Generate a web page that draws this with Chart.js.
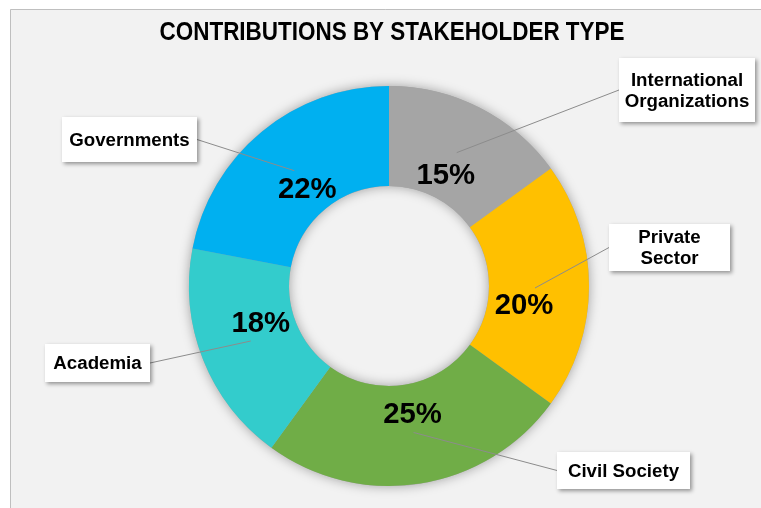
<!DOCTYPE html>
<html>
<head>
<meta charset="utf-8">
<script src="https://cdn.jsdelivr.net/npm/chart.js@4.4.1/dist/chart.umd.min.js"></script>
<style>
  html, body { margin: 0; padding: 0; background: #fff; }
  #wrap { width: 761px; height: 508px; position: relative; }
</style>
</head>
<body>
<div id="wrap"><canvas id="stakeChart"></canvas></div>
<script>
const titleText = 'CONTRIBUTIONS BY STAKEHOLDER TYPE';
const stakeholders = ['International Organizations', 'Private Sector', 'Civil Society', 'Academia', 'Governments'];
const shares = [15, 20, 25, 18, 22];
const sliceColors = ['#A5A5A5', '#FFC000', '#70AD47', '#33CCCC', '#00B0F0'];
// how each name is broken inside its callout box
const calloutLines = [['International', 'Organizations'], ['Private', 'Sector'], ['Civil Society'], ['Academia'], ['Governments']];

// callout layout, relative to the doughnut centre: [left, top, width, height]
const calloutBoxes = [[230, -228, 136, 64], [220, -62, 121, 47], [168, 166, 133, 37], [-344, 58, 105, 38], [-327, -169, 135, 45]];
// small nudges of the % labels (Excel moved a couple of them by hand)
const pctNudge = [[0, 0], [10, 19], [4, 4], [-12, -9], [-2, -1]];
// where the leader line leaves the % label
const leaderStart = [[11, -22], [11, -17], [1, 19], [-10, 18], [-13, -18]];

const calloutPlugin = {
  id: 'callouts',
  beforeDraw(chart) {
    const ctx = chart.ctx;
    ctx.save();
    ctx.fillStyle = '#fff';
    ctx.fillRect(0, 0, chart.width, chart.height);
    ctx.fillStyle = '#F2F2F2';
    ctx.fillRect(10, 9, chart.width, chart.height);
    ctx.strokeStyle = '#BFBFBF';
    ctx.lineWidth = 1;
    ctx.beginPath();
    ctx.moveTo(10.5, chart.height);
    ctx.lineTo(10.5, 9.5);
    ctx.lineTo(chart.width, 9.5);
    ctx.stroke();

    // title: narrow bold face, squeezed to the width it has in the original
    ctx.fillStyle = '#000';
    ctx.font = 'bold 25px "Liberation Sans Narrow", "Arial Narrow", "Liberation Sans", Arial, sans-serif';
    ctx.textAlign = 'center';
    ctx.textBaseline = 'middle';
    const w = ctx.measureText(titleText).width;
    const sx = Math.min(1, 465 / w);
    ctx.translate(392, 33);
    ctx.scale(sx, 1);
    ctx.fillText(titleText, 0, 0);
    ctx.restore();
  },
  beforeDatasetsDraw(chart) {
    // soft shadow under the ring
    const ctx = chart.ctx;
    const a = chart.getDatasetMeta(0).data[0];
    if (!a) return;
    ctx.save();
    ctx.shadowColor = 'rgba(0,0,0,0.35)';
    ctx.shadowBlur = 12;
    ctx.fillStyle = '#A5A5A5';
    ctx.beginPath();
    ctx.arc(a.x, a.y, a.outerRadius, 0, Math.PI * 2);
    ctx.arc(a.x, a.y, a.innerRadius, 0, Math.PI * 2, true);
    ctx.fill();
    ctx.restore();
  },
  afterDatasetsDraw(chart) {
    const ctx = chart.ctx;
    const arcs = chart.getDatasetMeta(0).data;
    ctx.save();
    arcs.forEach((a, i) => {
      const mid = (a.startAngle + a.endAngle) / 2;
      const rr = a.outerRadius * 0.625;
      const px = a.x + Math.cos(mid) * rr + pctNudge[i][0];
      const py = a.y + Math.sin(mid) * rr + pctNudge[i][1];
      const b = calloutBoxes[i];
      const bx = a.x + b[0], by = a.y + b[1];

      // leader line
      const sx = px + leaderStart[i][0], sy = py + leaderStart[i][1];
      const ex = b[0] > 0 ? bx : bx + b[2];
      const ey = by + b[3] / 2;
      ctx.strokeStyle = '#8C8C8C';
      ctx.lineWidth = 1;
      ctx.beginPath();
      ctx.moveTo(sx, sy);
      ctx.lineTo(ex, ey);
      ctx.stroke();

      // box
      ctx.save();
      ctx.shadowColor = 'rgba(0,0,0,0.4)';
      ctx.shadowBlur = 4;
      ctx.shadowOffsetX = 2;
      ctx.shadowOffsetY = 2;
      ctx.fillStyle = '#fff';
      ctx.fillRect(bx, by, b[2], b[3]);
      ctx.restore();

      ctx.fillStyle = '#000';
      ctx.font = 'bold 18.7px "Liberation Sans", Arial, sans-serif';
      ctx.textAlign = 'center';
      ctx.textBaseline = 'middle';
      const lines = calloutLines[i];
      const lh = 21;
      lines.forEach((t, k) => {
        ctx.fillText(t, bx + b[2] / 2, by + b[3] / 2 + (k - (lines.length - 1) / 2) * lh + 1);
      });

      // percentage
      ctx.font = 'bold 29.3px "Liberation Sans", Arial, sans-serif';
      ctx.fillText(shares[i] + '%', px, py + 1);
    });
    ctx.restore();
  }
};

new Chart(document.getElementById('stakeChart'), {
  type: 'doughnut',
  data: {
    labels: stakeholders,
    datasets: [{
      data: shares,
      backgroundColor: sliceColors,
      borderWidth: 0
    }]
  },
  options: {
    responsive: true,
    maintainAspectRatio: false,
    animation: false,
    cutout: '50%',
    layout: { padding: { top: 86, bottom: 22, left: 189, right: 172 } },
    plugins: {
      legend: { display: false },
      tooltip: { enabled: false },
      title: { display: false }
    }
  },
  plugins: [calloutPlugin]
});
</script>
</body>
</html>
